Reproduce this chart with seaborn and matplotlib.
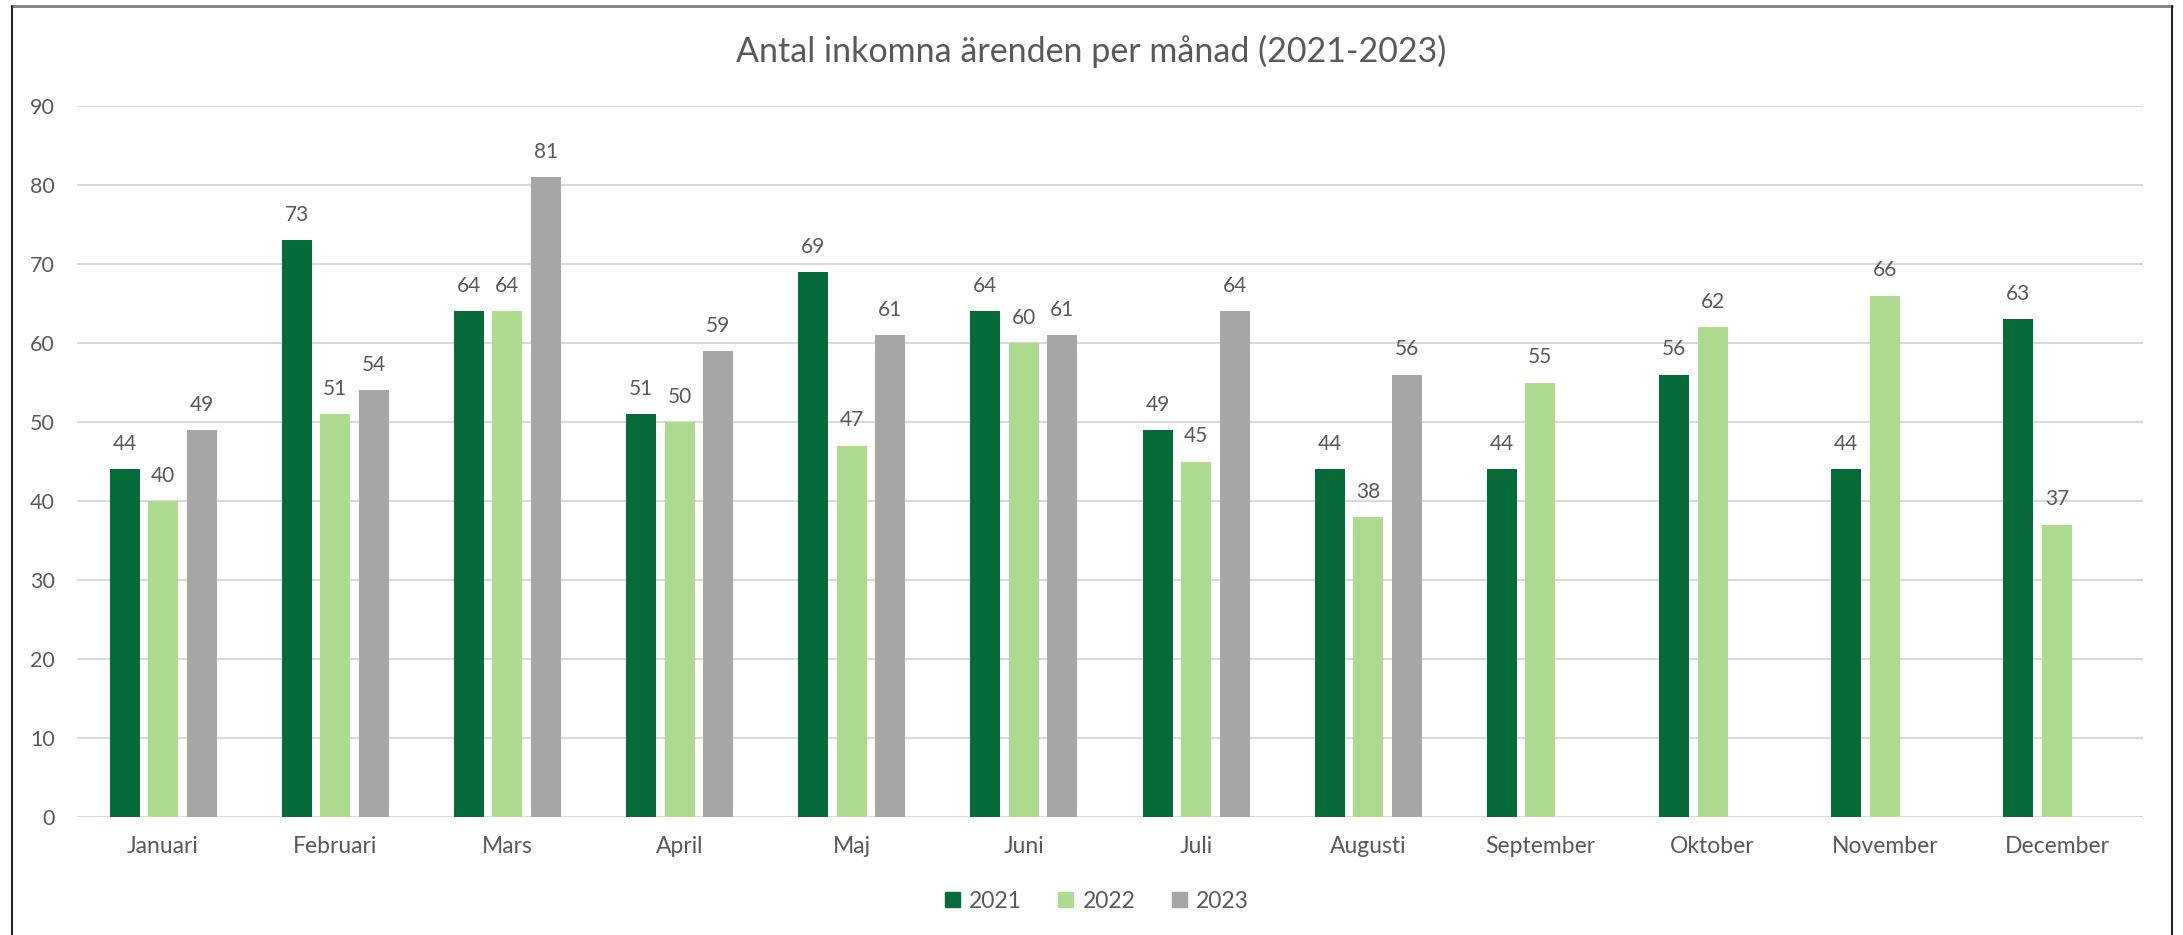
import numpy as np
import pandas as pd
import matplotlib
matplotlib.use("Agg")
import matplotlib.pyplot as plt
import seaborn as sns
from matplotlib.lines import Line2D

# Data
months = ["Januari", "Februari", "Mars", "April", "Maj", "Juni", "Juli",
          "Augusti", "September", "Oktober", "November", "December"]
years = ["2021", "2022", "2023"]
values_2021 = [44, 73, 64, 51, 69, 64, 49, 44, 44, 56, 44, 63]
values_2022 = [40, 51, 64, 50, 47, 60, 45, 38, 55, 62, 66, 37]
values_2023 = [49, 54, 81, 59, 61, 61, 64, 56, np.nan, np.nan, np.nan, np.nan]
colors = ["#056B38", "#ADDC91", "#A6A6A6"]

title = "Antal inkomna ärenden per månad (2021-2023)"
text_color = "#595959"

df = pd.DataFrame({
    "Månad": months * 3,
    "År": [y for y in years for _ in months],
    "Antal": values_2021 + values_2022 + values_2023,
})

sns.set_theme(style="white")
plt.rcParams["font.family"] = ["Lato", "DejaVu Sans"]

W, H = 2183, 935
fig = plt.figure(figsize=(W / 100, H / 100), dpi=100)
ax = fig.add_axes([77 / W, 1 - 817 / H, (2143 - 77) / W, (817 - 106) / H])

sns.barplot(data=df, x="Månad", y="Antal", hue="År", hue_order=years,
            palette=colors, width=0.67, gap=0.22, errorbar=None,
            saturation=1, linewidth=0, ax=ax)

for cont in ax.containers:
    labels = ["" if np.isnan(b.get_height()) else f"{b.get_height():.0f}" for b in cont]
    ax.bar_label(cont, labels=labels, padding=11, fontsize=15, color=text_color)

ax.set_ylim(0, 90)
ax.set_yticks(range(0, 91, 10))
ax.set_xlim(-0.5, len(months) - 0.5)
ax.yaxis.grid(True, color="#D9D9D9", linewidth=1.5)
ax.set_axisbelow(True)
for s in ax.spines.values():
    s.set_visible(False)
ax.tick_params(axis="y", length=0, pad=16, labelsize=15.5, labelcolor=text_color)
ax.tick_params(axis="x", length=0, pad=14, labelsize=16.5, labelcolor=text_color)
ax.set_xlabel("")
ax.set_ylabel("")

fig.text(0.5, 1 - 51 / H, title, ha="center", va="center", fontsize=24.5, color=text_color)

ax.legend_.remove()
handles = [plt.Rectangle((0, 0), 1, 1, color=c) for c in colors]
fig.legend(handles, years, loc="center", bbox_to_anchor=(0.5025, 0.036), ncol=3,
           frameon=False, fontsize=16.5, labelcolor=text_color, handlelength=0.65,
           handleheight=0.65, handletextpad=0.4, columnspacing=1.6)

# chart frame
fig.add_artist(Line2D([12 / W, 2172 / W], [1 - 6 / H, 1 - 6 / H],
                      transform=fig.transFigure, color="#7F7F7F", linewidth=2))
fig.add_artist(Line2D([12 / W, 12 / W], [0, 1 - 6 / H],
                      transform=fig.transFigure, color="#262626", linewidth=1.5))
fig.add_artist(Line2D([2172 / W, 2172 / W], [0, 1 - 6 / H],
                      transform=fig.transFigure, color="#262626", linewidth=1.5))

fig.savefig("out.png", dpi=100)
